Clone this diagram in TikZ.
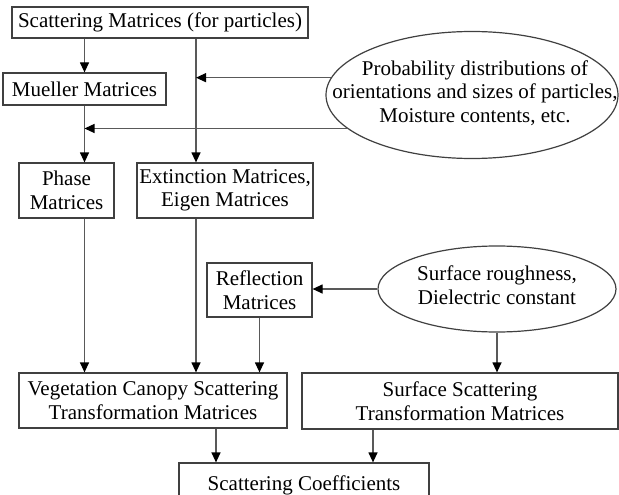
\documentclass[tikz,border=0pt]{standalone}
\usepackage{fontspec}
\setmainfont{Liberation Serif}
\usetikzlibrary{arrows.meta}
\usetikzlibrary{shapes.geometric}
\tikzset{
  basenode/.style = {align=center, inner sep=0pt, text centered,
    font=\fontsize{21}{23.5}\selectfont},
  box_node/.style = {basenode, rectangle, draw=black!75, fill=white,
    line width=1.2pt},
  oval_node/.style = {basenode, ellipse, draw=black!75, fill=white,
    line width=1.2pt},
  flow/.style = {draw=black!65, line width=1.2pt,
    -{Triangle[length=10pt,width=9pt,color=black]}}
}
\begin{document}
\begin{tikzpicture}[x=1pt, y=-1pt]
  \useasboundingbox (0,0) rectangle (619,495);
  \node (sct) [box_node, minimum width=296pt, minimum height=31pt] at (160,22.5)
    {Scattering Matrices (for particles)};
  \node (mue) [box_node, minimum width=163pt, minimum height=32pt] at (84.5,89)
    {Mueller Matrices};
  \node (pha) [box_node, minimum width=95pt, minimum height=55pt] at (66.5,190.5)
    {Phase\\Matrices};
  \node (ext) [box_node, minimum width=176pt, minimum height=55pt] at (225,190.5)
    {Extinction Matrices,\\Eigen Matrices};
  \node (prob) [oval_node, minimum width=292pt, minimum height=127pt] at (472,95) {};
  \node (probtxt) [basenode] at (475,93)
    {Probability distributions of\\orientations and sizes of particles,\\Moisture contents, etc.};
  \node (refl) [box_node, minimum width=105pt, minimum height=54pt] at (259.5,290)
    {Reflection\\Matrices};
  \node (surf) [oval_node, minimum width=238pt, minimum height=86pt] at (497,289) {};
  \node (surftxt) [basenode] at (497,285) {Surface roughness,\\Dielectric constant};
  \node (veg) [box_node, minimum width=268pt, minimum height=55pt] at (153,400.5)
    {Vegetation Canopy Scattering\\Transformation Matrices};
  \node (sst) [box_node, minimum width=316pt, minimum height=56pt] at (460,401)
    {Surface Scattering\\Transformation Matrices};
  \node (coef) [box_node, minimum width=250pt, minimum height=44pt] at (304,485)
    {Scattering Coefficients};

  \coordinate (ext_in) at (196,0);
  \coordinate (coef_l) at (216,0);
  \coordinate (coef_r) at (373,0);

  \draw[flow] (sct.south -| mue.north) -- (mue.north);
  \draw[flow] (mue.south) -- (pha.north -| mue.south);
  \draw[flow] (pha.south -| mue.south) -- (veg.north -| mue.south);
  \draw[flow] (sct.south -| ext_in) -- (ext.north -| ext_in);
  \draw[flow] (ext.south -| ext_in) -- (veg.north -| ext_in);
  \draw[flow] (prob.173.97) -- (prob.173.97 -| ext_in);
  \draw[flow] (prob.195.42) -- (prob.195.42 -| mue.south);
  \draw[flow] (refl.south) -- (veg.north -| refl.south);
  \draw[flow] (surf.west) -- (refl.east |- surf.west);
  \draw[flow] (surf.south) -- (sst.north -| surf.south);
  \draw[flow] (veg.south -| coef_l) -- (coef.north -| coef_l);
  \draw[flow] (sst.south -| coef_r) -- (coef.north -| coef_r);
\end{tikzpicture}
\end{document}
